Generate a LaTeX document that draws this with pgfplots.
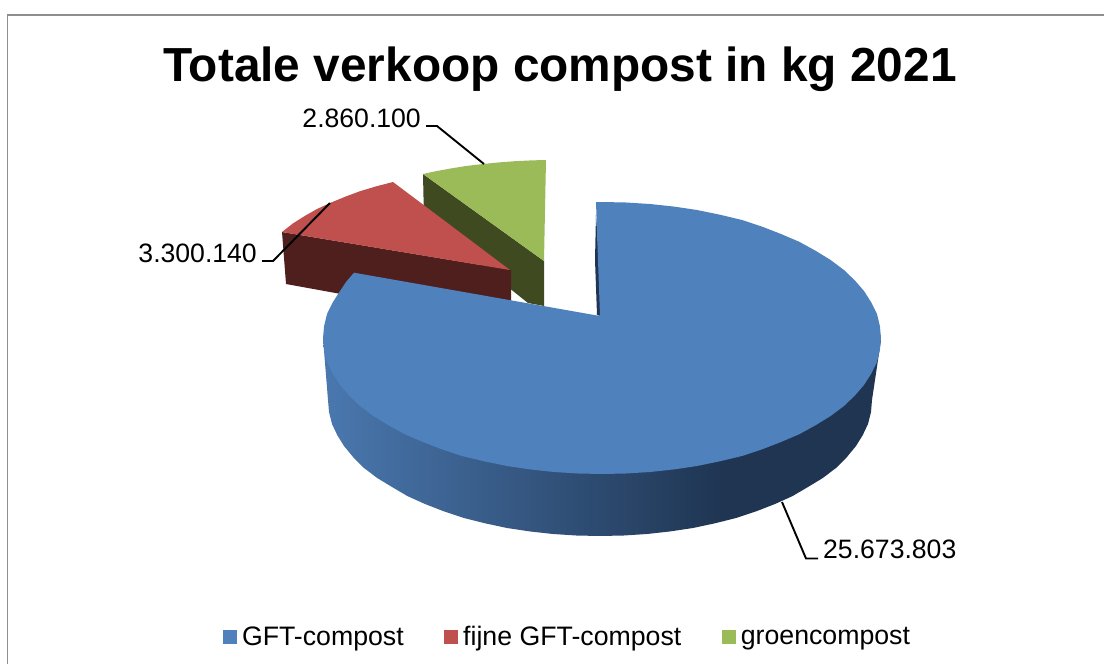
\documentclass[border=0pt]{standalone}
\usepackage{pgfplots}
\pgfplotsset{compat=1.18}
\usepackage{fontspec}
\setmainfont{Liberation Sans}
\definecolor{pieblue}{HTML}{4F81BD}
\definecolor{piered}{HTML}{C0504D}
\definecolor{piegreen}{HTML}{9BBB59}
\definecolor{darkred}{HTML}{4F1F1E}
\definecolor{darkgreen}{HTML}{3F4A21}
\definecolor{sidedark}{HTML}{1F3552}
\definecolor{sidelight}{HTML}{4A78AF}
\definecolor{framegray}{HTML}{8E8E8E}
\pgfplotsset{
  square legend/.style={legend image code/.code={\fill[##1] (0pt,-7pt) rectangle (14pt,7pt);}}
}
\begin{document}
\begin{tikzpicture}
\path[use as bounding box] (0,0) rectangle (1104pt,664pt);
\begin{axis}[
  at={(0,0)}, anchor=south west,
  width=1104pt, height=664pt, scale only axis,
  xmin=0, xmax=1104, ymin=0, ymax=664, y dir=reverse,
  axis lines=none, clip=false,
  legend columns=3,
  legend cell align=left,
  legend style={draw=none, fill=none, at={(axis cs:223,636.5)}, anchor=west,
    inner sep=0pt, outer sep=0pt,
    font=\fontsize{26.7}{30}\selectfont,
    /tikz/every odd column/.append style={column sep=3pt},
    /tikz/every even column/.append style={column sep=38.5pt}},
]
% legend
\addlegendimage{square legend, fill=pieblue, draw=none}
\addlegendentry{GFT-compost}
\addlegendimage{square legend, fill=piered, draw=none}
\addlegendentry{fijne GFT-compost}
\addlegendimage{square legend, fill=piegreen, draw=none}
\addlegendentry{groencompost}
% frame
\addplot[forget plot, framegray, line width=1.6pt] coordinates {(7.5,664) (7.5,15) (1104,15)};
% green slice
\addplot[forget plot, draw=none, fill=darkgreen] coordinates {(423,174) (424,220) (528,303) (544,306) (544,261)} --cycle;
\addplot[forget plot, draw=none, fill=piegreen] coordinates {(423,174) (436,171.2) (450,168.6) (466,166) (483,164) (499,162.4) (515,161.2) (531,160.4) (546,160) (544,261)} --cycle;
% red slice
\addplot[forget plot, draw=none, fill=darkred] coordinates {(282,232) (286,284) (511,325) (511,270)} --cycle;
\addplot[forget plot, draw=none, fill=piered] coordinates {(393,182) (376,186.4) (360,191.2) (345,196.8) (330,203) (317,209) (305,215.8) (293,223.4) (282,232) (510,270)} --cycle;
% blue side, gradient part
\addplot[forget plot, draw=none, left color=sidelight, right color=sidedark] coordinates {
 (323,338) (328,400) (329,412) (332,424) (337.3,435.2) (344,446) (353.5,457.5) (364,468) (377.2,478)
 (392,487) (407.7,496.2) (425,504) (444,511.4) (464,518) (485,523.3) (507,528) (529.6,531.4) (553,534)
 (576.3,535.5) (600,536) (623.7,535.5) (647,534) (670.4,531.4) (693,528) (715,523.3) (724,521) (724,340)} --cycle;
% blue side, dark part
\addplot[forget plot, draw=none, fill=sidedark] coordinates {
 (723,340) (723,521.3) (736,518) (756,511.4) (775,504) (792.3,496.2) (808,487) (822.8,478) (836,468)
 (846.5,457.5) (856,446) (862.7,435.2) (868,424) (871,412) (872,400) (881,340)} --cycle;
% small inner sliver
\addplot[forget plot, draw=none, fill=sidedark] coordinates {(596,215) (595,260) (597,315) (601,316) (599,260)} --cycle;
% blue top
\addplot[forget plot, draw=none, fill=pieblue] coordinates {
 (596,202) (602,202) (626,202.5) (650,204) (674.2,206.6) (697,210) (719.9,214.7) (742,220) (762,226.6)
 (781,234) (799.3,241.8) (816,251) (830.6,260) (844,270) (854.9,280.5) (864,291) (871.5,302.8) (877,314)
 (879.9,326.1) (881,338) (879.9,349.9) (877,362) (871.5,373.2) (864,385) (854.9,395.5) (844,406) (830.6,416)
 (816,425) (799.3,434.2) (781,442) (762,449.4) (742,456) (719.9,461.3) (697,466) (674.2,469.4) (650,472)
 (626,473.5) (602,474) (578,473.5) (554,472) (529.8,469.4) (507,466) (484.1,461.3) (462,456) (442,449.4)
 (423,442) (404.7,434.2) (388,425) (373.4,416) (360,406) (349.1,395.5) (340,385) (332.5,373.2) (327,362)
 (324.1,349.9) (323,338) (324.1,326.1) (327,314) (332.5,302.8) (340,291) (346,282) (354,272.7) (600,316) (598,260)} --cycle;
% leader lines
\addplot[forget plot, black, line width=1.9pt] coordinates {(426,126) (437,126) (484,164)};
\addplot[forget plot, black, line width=1.9pt] coordinates {(262,261) (273,261) (330,203)};
\addplot[forget plot, black, line width=1.9pt] coordinates {(782,502) (806,558.5) (818,558.5)};
% texts
\node[anchor=base, inner sep=0pt, font=\fontsize{47.8}{50}\selectfont\bfseries] at (axis cs:560,81) {Totale verkoop compost in kg 2021};
\node[anchor=base east, inner sep=0pt, font=\fontsize{26.6}{30}\selectfont] at (axis cs:421,127.5) {2.860.100};
\node[anchor=base east, inner sep=0pt, font=\fontsize{26.6}{30}\selectfont] at (axis cs:257,262) {3.300.140};
\node[anchor=base west, inner sep=0pt, font=\fontsize{26.6}{30}\selectfont] at (axis cs:823,558) {25.673.803};
\end{axis}
\end{tikzpicture}
\end{document}
